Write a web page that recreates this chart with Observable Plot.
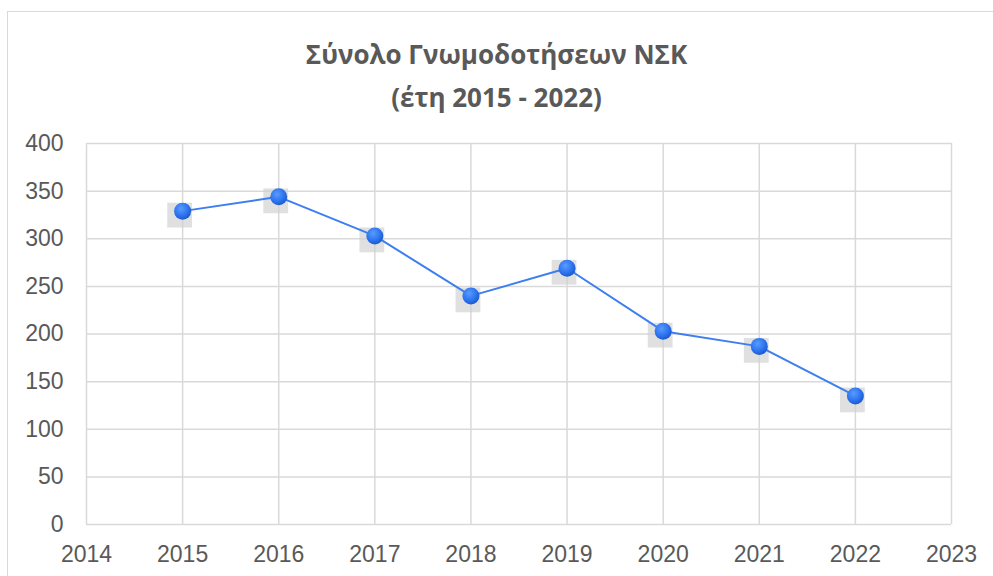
<!DOCTYPE html>
<html>
<head>
<meta charset="utf-8">
<script src="https://cdn.jsdelivr.net/npm/d3@7"></script>
<script src="https://cdn.jsdelivr.net/npm/@observablehq/plot@0.6"></script>
<style>
  html, body { margin: 0; padding: 0; background: #fff; }
  #wrap { position: relative; width: 993px; height: 576px; overflow: hidden; }
  #frame { position: absolute; left: 7px; top: 11px; width: 1000px; height: 600px; border: 1.5px solid #d9d9d9; box-sizing: border-box; }
  .title { position: absolute; left: 0; width: 993px; text-align: center; font-family: "Open Sans", Lato, sans-serif; font-weight: bold; font-size: 26px; line-height: 26px; color: #595959; }
  #chart { position: absolute; left: 0; top: 0; }
</style>
</head>
<body>
<div id="wrap">
  <div id="frame"></div>
  <div class="title" id="t1" style="top:41px">Σύνολο Γνωμοδοτήσεων ΝΣΚ</div>
  <div class="title" id="t2" style="top:84px">(έτη 2015 - 2022)</div>
  <div id="chart"></div>
</div>
<script>
const years = [2015, 2016, 2017, 2018, 2019, 2020, 2021, 2022];
const opinions = [329, 344, 303, 240, 269, 203, 187, 135];
const xTicks = [2014, 2015, 2016, 2017, 2018, 2019, 2020, 2021, 2022, 2023];
const yTicks = [0, 50, 100, 150, 200, 250, 300, 350, 400];

const data = years.map((y, i) => ({year: y, value: opinions[i]}));

const plot = Plot.plot({
  width: 993,
  height: 576,
  marginLeft: 86,
  marginRight: 42,
  marginTop: 143,
  marginBottom: 52,
  style: {background: "transparent", fontFamily: "'Liberation Sans', Arial, sans-serif", fontSize: "23px", color: "#595959"},
  x: {domain: [2014, 2023], ticks: xTicks, tickFormat: d => String(d), tickSize: 0, tickPadding: 21, label: null},
  y: {domain: [0, 400], ticks: yTicks, tickSize: 0, tickPadding: 23, label: null},
  marks: [
    Plot.gridX(xTicks, {stroke: "#d9d9d9", strokeOpacity: 1, strokeWidth: 1.5}),
    Plot.gridY(yTicks, {stroke: "#d9d9d9", strokeOpacity: 1, strokeWidth: 1.5}),
    Plot.dot(data, {x: "year", y: "value", symbol: "square", r: 14, fill: "#cfcfcf", fillOpacity: 0.65, dx: -3, dy: 4, ariaLabel: "shadow"}),
    Plot.line(data, {x: "year", y: "value", stroke: "#3d7ef0", strokeWidth: 2}),
    Plot.dot(data, {x: "year", y: "value", symbol: "circle", r: 8.5, fill: "url(#markerGrad)", stroke: "none", ariaLabel: "marker"}),
    Plot.axisX({ticks: xTicks, tickFormat: d => String(d), tickSize: 0, tickPadding: 21, label: null}),
    Plot.axisY({ticks: yTicks, tickSize: 0, tickPadding: 23, label: null})
  ]
});

const svg = d3.select(plot);
const defs = svg.insert("defs", ":first-child");
const g = defs.append("radialGradient").attr("id", "markerGrad").attr("cx", "40%").attr("cy", "35%").attr("r", "70%");
g.append("stop").attr("offset", "0%").attr("stop-color", "#5b9bff");
g.append("stop").attr("offset", "60%").attr("stop-color", "#2c74ef");
g.append("stop").attr("offset", "100%").attr("stop-color", "#1a55c8");
const f = defs.append("filter").attr("id", "blurShadow").attr("x", "-50%").attr("y", "-50%").attr("width", "200%").attr("height", "200%");
f.append("feGaussianBlur").attr("stdDeviation", 3.5);
svg.selectAll("g[aria-label='shadow']").attr("filter", "url(#blurShadow)");

document.getElementById("chart").appendChild(plot);
</script>
</body>
</html>
